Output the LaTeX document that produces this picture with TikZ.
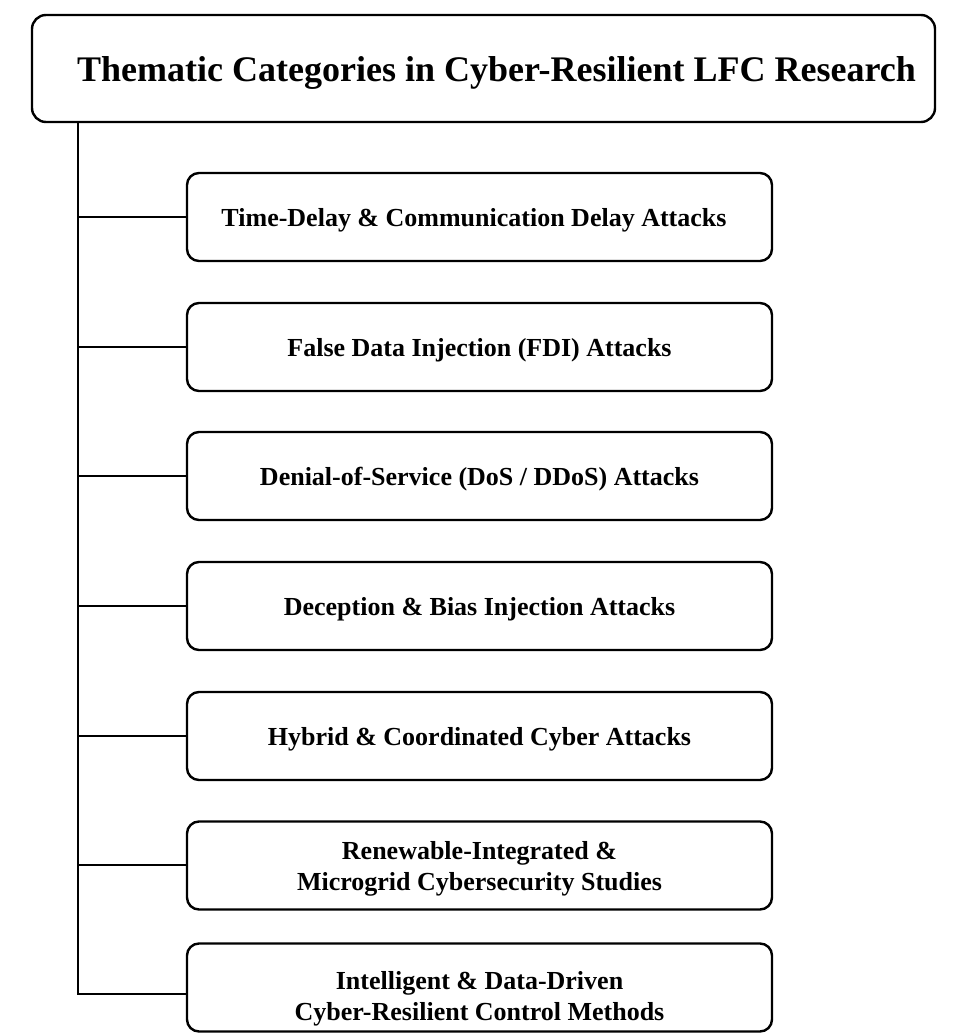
\documentclass[tikz,border=0pt]{standalone}
\usepackage{fontspec}
\setmainfont{Liberation Serif}
\begin{document}
\begin{tikzpicture}[x=1pt,y=-1pt,
  catbox/.style={draw, line width=2.4pt, rounded corners=12pt, minimum width=585pt, minimum height=88pt, inner sep=0pt},
  cattext/.style={align=center, font=\fontsize{26}{31}\selectfont\bfseries, inner sep=0pt},
  titlebox/.style={draw, line width=2.4pt, rounded corners=14pt, minimum width=903pt, minimum height=107pt, inner sep=0pt},
  titletext/.style={font=\fontsize{36}{40}\selectfont\bfseries, inner sep=0pt},
  link/.style={line width=2.8pt}]
\useasboundingbox (0,0) rectangle (954,1035);
\node[titlebox] (title) at (483.5,68.5) {};
\node[titletext] (ttext) at (496.5,73) {Thematic Categories in Cyber-Resilient LFC Research};
\coordinate (top) at (78,122);
\coordinate (bot) at (78,995.4);
\draw[link] (top) -- (bot);
\node[catbox] (c1) at (479.5,217) {};
\node[catbox] (c2) at (479.5,347) {};
\node[catbox] (c3) at (479.5,476) {};
\node[catbox] (c4) at (479.5,606) {};
\node[catbox] (c5) at (479.5,736) {};
\node[catbox] (c6) at (479.5,865.5) {};
\node[catbox] (c7) at (479.5,987.5) {};
\node[cattext] (t1) at ([xshift=-5.5pt,yshift=-3pt]c1.center) {Time-Delay \& Communication Delay Attacks};
\node[cattext] (t2) at ([yshift=-3pt]c2.center) {False Data Injection (FDI) Attacks};
\node[cattext] (t3) at ([yshift=-3pt]c3.center) {Denial-of-Service (DoS / DDoS) Attacks};
\node[cattext] (t4) at ([yshift=-3pt]c4.center) {Deception \& Bias Injection Attacks};
\node[cattext] (t5) at ([yshift=-3pt]c5.center) {Hybrid \& Coordinated Cyber Attacks};
\node[cattext] (t6) at ([yshift=-3pt]c6.center) {Renewable-Integrated \&\\ Microgrid Cybersecurity Studies};
\node[cattext] (t7) at ([yshift=-11.5pt]c7.center) {Intelligent \& Data-Driven\\ Cyber-Resilient Control Methods};
\foreach \i/\yy in {1/217,2/347,3/476,4/606,5/736,6/865,7/994} {
  \coordinate (j\i) at (78,\yy);
  \draw[link] (j\i) -- (j\i -| c\i.west);
}
\end{tikzpicture}
\end{document}
